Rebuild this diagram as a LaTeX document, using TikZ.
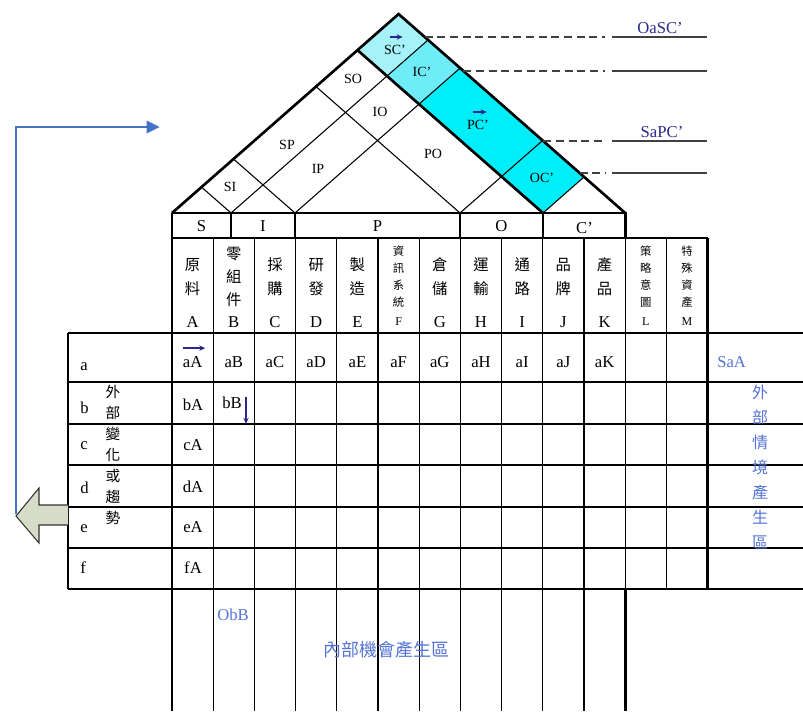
\documentclass[tikz,border=0pt]{standalone}
\usepackage{fontspec}
\setmainfont{Liberation Serif}
\newfontfamily\cjk{Noto Sans CJK TC}
\usepackage{tikz}
\usetikzlibrary{arrows.meta, positioning, calc}
\definecolor{myblue}{RGB}{68,114,196}
\definecolor{mynavy}{RGB}{40,40,140}
\definecolor{mylabel}{RGB}{85,115,215}
\definecolor{mycyan}{RGB}{0,238,248}
\definecolor{mymidcyan}{RGB}{110,236,248}
\definecolor{mylcyan}{RGB}{165,242,248}
\definecolor{mykhaki}{RGB}{215,220,200}
\def\rk{0.878}
\begin{document}
\begin{tikzpicture}[x=0.75pt,y=-0.75pt,
          thk/.style={line width=2pt},
          thn/.style={line width=0.8pt},
          txt/.style={font=\fontsize{12.5}{14}\selectfont,inner sep=0pt},
          stxt/.style={font=\fontsize{9}{10}\selectfont,inner sep=0pt},
          roof/.style={font=\fontsize{10.5}{12}\selectfont,inner sep=0pt},
          hd/.style={font=\cjk\fontsize{11.5}{18}\selectfont,align=center,inner sep=0pt},
          hd3/.style={font=\cjk\fontsize{11.5}{17}\selectfont,align=center,inner sep=0pt},
          hd4/.style={font=\cjk\fontsize{8.5}{12.75}\selectfont,align=center,inner sep=0pt},
          vtxt/.style={font=\cjk\fontsize{11}{15.75}\selectfont,align=center,inner sep=0pt},
          blu/.style={text=mylabel,inner sep=0pt},
          mini/.style={mynavy,line width=1pt,-{Stealth[length=4.5pt,width=4pt]}},
          dsh/.style={black!75,line width=0.9pt,dash pattern=on 6pt off 3.5pt}]
        \useasboundingbox (0,0) rectangle (803,711);
        % roof points
        \foreach \s/\n in {172/0,231/1,295/2,460/3,543/4,625.2/5}{
          \coordinate (s\n) at (\s,213);
          \coordinate (r\n) at ({(\s+625.2)/2},{213-\rk*(625.2-\s)/2});
          \coordinate (b\n) at ({(\s+543)/2},{213-\rk*(543-\s)/2});
          \coordinate (l\n) at ({(\s+172)/2},{213-\rk*(\s-172)/2});
        }
        \fill[mylcyan](b0)--(r0)--(r1)--(b1)--cycle;
        \fill[mymidcyan](b1)--(r1)--(r2)--(b2)--cycle;
        \fill[mycyan](b2)--(r2)--(r3)--(b3)--cycle;
        \fill[mycyan](b3)--(r3)--(r4)--(b4)--cycle;
        \foreach \n in {1,...,4}{
          \draw[thn](s\n)--(r\n);
          \draw[thn](s\n)--(l\n);
        }
        \draw[thk](s4)--(l4);
        \draw[thk,line join=miter](s0)--(r0)--(s5);
        % roof labels
        \node[roof](si) at (230,187) {SI};
        \node[roof](sp) at (287,145) {SP};
        \node[roof](so) at (353,79) {SO};
        \node[roof](scp) at (395,50) {SC'};
        \node[roof](ip) at (318,169) {IP};
        \node[roof](io) at (380,112) {IO};
        \node[roof](icp) at (422,72) {IC'};
        \node[roof](po) at (433,154) {PO};
        \node[roof](pcp) at (478,125) {PC'};
        \node[roof](ocp) at (542,178) {OC'};
        \draw[mini]([shift={(-4pt,6pt)}]scp.north)--++(13,0);
        \draw[mini]([shift={(-4pt,6pt)}]pcp.north)--++(14,0);
        % lines to the right
        \foreach \y/\n in {37/1,71/2,141/3,173/4}{
          \coordinate (e\n) at ({625.2-(213-\y)/\rk},\y);
          \coordinate (m\n) at (605,\y);
          \coordinate (f\n) at (707,\y);
          \draw[dsh](e\n)--(m\n);
          \draw[black!75,line width=1.1pt]([xshift=5pt]m\n)--(f\n);
        }
        \node[text=mynavy,font=\fontsize{12.5}{14}\selectfont,anchor=south,inner sep=2pt](oasc) at (660,37) {OaSC'};
        \node[text=mynavy,font=\fontsize{12.5}{14}\selectfont,anchor=south,inner sep=2pt](sapc) at (662,141) {SaPC'};
        % group band
        \draw[thk](s0)--(s5)--(625.2,238);
        \foreach \x in {231,295,460,543}
          \draw[thk](\x,213)--(\x,238);
        \node[txt](gS) at (201.5,226) {S};
        \node[txt](gI) at (263,226) {I};
        \node[txt](gP) at (377.5,226) {P};
        \node[txt](gO) at (501.5,226) {O};
        \node[txt](gC) at (584.5,228) {C'};
        % grid
        \draw[thk](172,238)--(707.6,238);
        \draw[thk](68,333)--(803,333);
        \draw[thk](68,589)--(803,589);
        \foreach \y in {382,424,465,507,548}
          \draw[thn](68,\y)--(803,\y);
        \draw[thk](68,333)--(68,589);
        \draw[thk](172,213)--(172,711);
        \foreach \k in {1,...,9}
          \draw[thn]({172+41.2*\k},238)--({172+41.2*\k},711);
        \foreach \k in {11,12}
          \draw[thn]({172+41.2*\k},238)--({172+41.2*\k},589);
        \draw[thk](584,238)--(584,589);
        \draw[thn](584,589)--(584,711);
        \draw[thk](625.2,589)--(625.2,711);
        \draw[thk](707.6,238)--(707.6,589);
        % column heads
        \foreach \t/\l/\st/\ls [count=\i from 0] in
          {原\\料/A/hd/txt,零\\組\\件/B/hd3/txt,採\\購/C/hd/txt,
           研\\發/D/hd/txt,製\\造/E/hd/txt,資\\訊\\系\\統/F/hd4/stxt,
           倉\\儲/G/hd/txt,運\\輸/H/hd/txt,通\\路/I/hd/txt,
           品\\牌/J/hd/txt,產\\品/K/hd/txt,策\\略\\意\\圖/L/hd4/stxt,
           特\\殊\\資\\產/M/hd4/stxt}{
          \node[\st](h\l) at ({172+41.2*(\i+0.5)},277) {\t};
          \node[\ls](k\l) at ({172+41.2*(\i+0.5)},322) {\l};
        }
        % rows
        \foreach \r/\y in {a/367,b/408,c/446,d/488,e/529,f/568}
          \node[txt,anchor=west](row\r) at (80,\y) {\r};
        \node[vtxt](ext) at (113,455)
          {外\\部\\變\\化\\或\\趨\\勢};
        \foreach \l [count=\i from 0] in {A,B,C,D,E,F,G,H,I,J,K}
          \node[txt](a\l) at ({172+41.2*(\i+0.5)},362) {a\l};
        \node[txt](bA) at (193,405) {bA};
        \node[txt](bB) at (232,403) {bB};
        \foreach \r/\y in {c/445,d/487,e/527,f/568}
          \node[txt](\r A) at (193,\y) {\r A};
        \draw[mini]([yshift=6pt]aA.north west)--([yshift=6pt,xshift=2pt]aA.north east);
        \draw[mini]([xshift=3pt]bB.north east)--++(0,27);
        % blue texts
        \node[blu,font=\fontsize{12.5}{14}\selectfont,anchor=west](saa) at (717,362) {SaA};
        \node[blu,font=\cjk\fontsize{12}{18.75}\selectfont,align=center](extarea) at (760,467)
          {外\\部\\情\\境\\產\\生\\區};
        \node[blu,font=\cjk\fontsize{13.5}{15}\selectfont](intarea) at (386,650) {內部機會產生區};
        \node[blu,font=\fontsize{12.5}{14}\selectfont](obb) at (233,615) {ObB};
        % feedback arrow
        \draw[fill=mykhaki,draw=black!80,line width=0.8pt]
          (68,505)--(39,505)--(39,488)--(16,516)--(39,543)--(39,525)--(68,525);
        \coordinate (tip) at (16,514);
        \coordinate (fb) at (160,127);
        \draw[myblue,line width=2.2pt,-{Triangle[length=10pt,width=9pt]}](tip)|-(fb);
      \end{tikzpicture}
\end{document}
